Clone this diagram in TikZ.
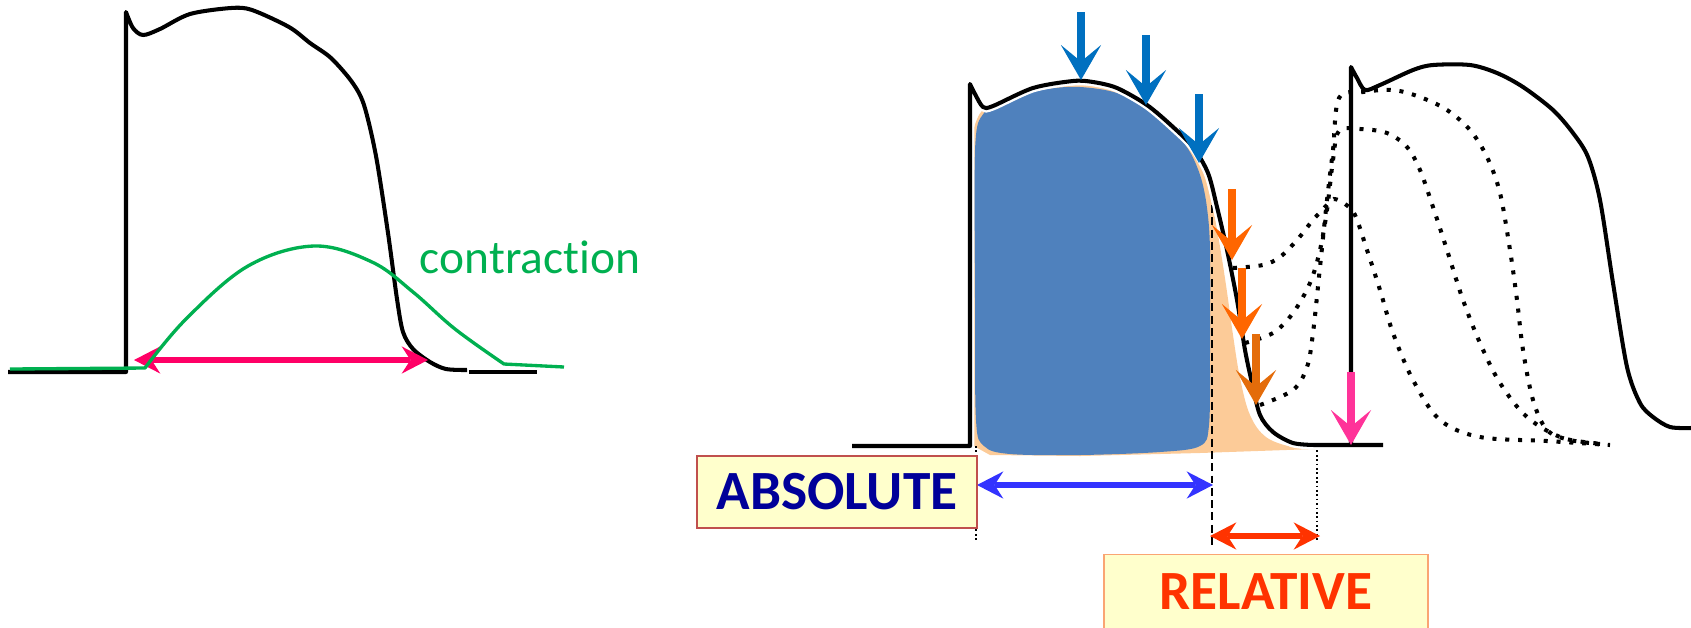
\documentclass[tikz,border=0pt]{standalone}
\usepackage{fontspec}
\setmainfont{Carlito}[Ligatures=NoCommon]
\usetikzlibrary{arrows.meta}
\definecolor{cellblue}{RGB}{79,129,189}
\definecolor{peach}{RGB}{252,203,152}
\definecolor{ptrblue}{RGB}{0,112,192}
\definecolor{ptrorange}{RGB}{255,102,0}
\definecolor{ptrdark}{RGB}{228,108,10}
\definecolor{ptrpink}{RGB}{255,51,153}
\definecolor{rosered}{RGB}{255,0,102}
\definecolor{contr}{RGB}{0,176,80}
\definecolor{absblue}{RGB}{51,51,255}
\definecolor{relred}{RGB}{255,51,0}
\definecolor{navytext}{RGB}{0,0,153}
\definecolor{paleyellow}{RGB}{255,255,204}
\definecolor{absedge}{RGB}{192,80,77}
\definecolor{reledge}{RGB}{250,165,115}

\begin{document}
\begin{tikzpicture}[x=0.02cm, y=-0.02cm,
  ap/.style={line width=2.3pt, line join=round, black},
  halo/.style={preaction={draw=white, line width=5pt}},
  dots/.style={line width=2.3pt, dash pattern=on 2.3pt off 5pt},
  ptr/.style={line width=4.4pt, -{Stealth[length=20pt, width=23pt, inset=9.5pt, line width=0pt]}},
  period/.style={line width=3pt, {Stealth[length=15pt, width=15.5pt, inset=5pt, line width=0pt]}-{Stealth[length=15pt, width=15.5pt, inset=5pt, line width=0pt]}},
  refbox/.style={fill=paleyellow, line width=1.1pt, inner sep=0pt, font=\fontsize{31.5}{32}\selectfont\bfseries},
  guide/.style={line width=0.6pt, dash pattern=on 1pt off 1.5pt}
]
  \useasboundingbox (0,0) rectangle (1691,627);

  % left: action potential and contraction
  \draw[ap] (8,372) -- (126,372) -- plot[smooth, tension=.5] coordinates {(126,12) (133,28) (143,35) (160,29) (190,14) (231,8) (252,10) (289,27) (310,43) (331,58) (352,82) (364,105) (376,156) (388,233) (397,299) (403,332) (413,349) (430,362) (446,369) (467,370)};
  \draw[ap] (469,372) -- (537,372);
  \coordinate (contrL) at (134,360);
  \coordinate (contrR) at (428,360);
  \draw[period, rosered] (contrL) -- (contrR);
  \draw[contr, line width=1.9pt, line join=round] (10,369) -- (145,368) -- plot[smooth, tension=.6] coordinates {(145,368) (186,319) (248,266) (314,246) (372,262) (413,292) (455,329) (504,364)} -- (564,367);
  \node[contr, font=\fontsize{27}{28}\selectfont] (contraction) at (530,257) {contraction};

  % right: refractory periods
  \fill[peach] (972,445) -- (972,140) -- plot[smooth, tension=.6] coordinates {(972,140) (985,108) (1040,90) (1095,86) (1145,102) (1182,132) (1200,160) (1210,195) (1218,235) (1226,285) (1233,335) (1240,378) (1250,415) (1266,437) (1292,447) (1315,449)} -- (1200,453) -- (1080,456) -- (990,455) -- cycle;
  \fill[cellblue] plot[smooth cycle, tension=.55] coordinates {(975,150) (984,113) (1013,97) (1047,89) (1080,87) (1117,93) (1150,110) (1173,130) (1190,152) (1201,178) (1207,208) (1210,250) (1210,350) (1209,425) (1200,446) (1160,452) (1080,455) (1010,454) (984,446) (976,420) (975,300)};
  \draw[line width=1.1pt, dash pattern=on 4.5pt off 2.5pt] (1212,205) -- (1212,547);
  \draw[guide] (976,446) -- (976,541);
  \draw[guide] (1317,446) -- (1317,541);

  \draw[ap, halo] (852,446) -- (970,446) -- plot[smooth, tension=.5] coordinates {(970,84) (975,94) (983,107) (993,106) (1033,88) (1073,81) (1093,82) (1117,88) (1147,105) (1173,127) (1193,147) (1208,173) (1217,207) (1227,250) (1237,300) (1245,350) (1252,383) (1260,415) (1273,432) (1293,443) (1315,445)} -- (1383,445);
  \draw[ap] (1351,445) -- plot[smooth, tension=.5] coordinates {(1351,67) (1357,78) (1365,90) (1380,85) (1413,70) (1433,65) (1470,65) (1497,73) (1523,87) (1553,110) (1573,133) (1588,157) (1600,200) (1613,283) (1627,367) (1640,403) (1653,417) (1670,427) (1691,428)};

  \draw[dots] plot[smooth, tension=.55] coordinates {(1233,268) (1263,265) (1280,257) (1297,240) (1313,220) (1327,205) (1334,199) (1345,204) (1355,215) (1367,250) (1380,290) (1393,333) (1413,380) (1440,420) (1480,437) (1547,441) (1610,445)};
  \draw[dots] plot[smooth, tension=.55] coordinates {(1245,343) (1273,333) (1293,313) (1310,283) (1320,250) (1327,210) (1333,160) (1339,131) (1360,129) (1387,133) (1407,147) (1420,170) (1433,207) (1447,250) (1463,300) (1480,343) (1500,383) (1527,417) (1563,438) (1605,444)};
  \draw[dots] plot[smooth, tension=.55] coordinates {(1260,405) (1293,390) (1307,367) (1313,333) (1320,267) (1327,200) (1333,150) (1339,98) (1363,92) (1393,90) (1420,97) (1447,110) (1470,130) (1487,157) (1500,193) (1510,250) (1517,300) (1523,350) (1533,400) (1547,430) (1570,440) (1600,444)};

  \draw[ptr, ptrblue] (1081,12) -- (1081,80);
  \draw[ptr, ptrblue] (1146,35) -- (1146,105);
  \draw[ptr, ptrblue] (1199,94) -- (1199,163);
  \draw[ptr, ptrorange] (1232,189) -- (1232,260);
  \draw[ptr, ptrorange] (1242,268) -- (1242,339);
  \draw[ptr, ptrdark] (1256,334) -- (1256,405);
  \draw[ptr, ptrpink] (1351,372) -- (1351,445);

  \coordinate (absL) at (977,485);
  \coordinate (absR) at (1213,485);
  \coordinate (relL) at (1210,536);
  \coordinate (relR) at (1320,536);
  \draw[period, absblue] (absL) -- (absR);
  \draw[period, relred] (relL) -- (relR);

  \node[refbox, draw=absedge, text=navytext, minimum width=5.6cm, minimum height=1.44cm] (absolute) at (837,492) {ABSOLUTE};
  \node[refbox, draw=reledge, text=relred, minimum width=6.48cm, minimum height=1.5cm] (relative) at (1266,592) {RELATIVE};
\end{tikzpicture}
\end{document}
